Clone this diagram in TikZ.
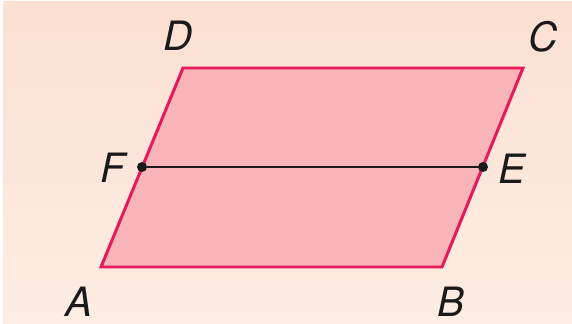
\documentclass[tikz,border=0pt]{standalone}
\usepackage{fontspec}
\setmainfont{TeX Gyre Heros}
\usepackage{tikz}
\usetikzlibrary{positioning}
\definecolor{bgtop}{HTML}{FCE0D2}
\definecolor{bgbottom}{HTML}{FDEDE3}
\definecolor{edge}{HTML}{E8185C}
\definecolor{face}{HTML}{F8B4B6}
\definecolor{dark}{HTML}{1A1A1A}

\begin{document}
\begin{tikzpicture}[
    vertexlabel/.style={text=dark, font=\fontsize{23}{26}\selectfont\itshape, inner sep=0pt},
    parallelo/.style={draw=edge, fill=face, line width=1.7pt, line join=miter},
    segment/.style={draw=dark, line width=0.8pt},
    dot/.style={circle, fill=dark, inner sep=0pt, minimum size=0.2cm}
]
\useasboundingbox (0,0) rectangle (11.44,6.46);
\fill[white] (0,0) rectangle (11.44,6.46);
\shade[top color=bgtop, bottom color=bgbottom] (0.06,0) rectangle (11.44,6.42);

\coordinate (a) at (2.02,1.12);
\coordinate (b) at (8.84,1.12);
\coordinate (c) at (10.46,5.10);
\coordinate (d) at (3.66,5.10);

\draw[parallelo] (a) -- (b) -- (c) -- (d) -- cycle;
\node[dot] (f) at (2.84,3.12) {};
\node[dot] (e) at (9.66,3.12) {};
\draw[segment] (f) -- (e);

\node[vertexlabel] (lblA) at (1.58,0.42) {A};
\node[vertexlabel] (lblB) at (9.02,0.42) {B};
\node[vertexlabel] (lblC) at (10.86,5.72) {C};
\node[vertexlabel] (lblD) at (3.56,5.74) {D};
\node[vertexlabel] (lblE) at (10.24,3.08) {E};
\node[vertexlabel] (lblF) at (2.26,3.10) {F};
\end{tikzpicture}
\end{document}
